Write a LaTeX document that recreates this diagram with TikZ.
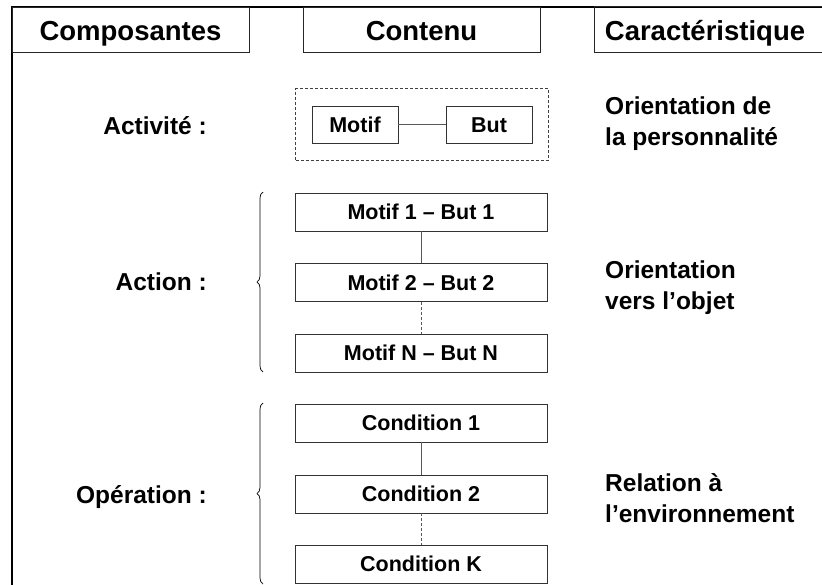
\documentclass[tikz,border=0pt]{standalone}
\usepackage{fontspec}
\setmainfont{Liberation Sans}
\usetikzlibrary{decorations.pathreplacing,fit}
\begin{document}
\begin{tikzpicture}[x=1pt,y=-1pt,
 hdr/.style={draw=black!85, line width=0.8pt, inner sep=0, minimum width=237pt, minimum height=45pt, text height=22.5pt, text depth=0pt, font=\fontsize{27.5}{33}\selectfont\bfseries},
 box/.style={draw=black!80, line width=0.7pt, inner sep=0, minimum width=252pt, minimum height=38pt, text height=15.5pt, text depth=0pt, font=\fontsize{21.5}{26}\selectfont\bfseries},
 sbox/.style={box, minimum width=86pt, minimum height=37pt},
 lbl/.style={inner sep=0, font=\fontsize{24.5}{31}\selectfont\bfseries},
 rlbl/.style={lbl, align=left, anchor=north west},
 link/.style={draw=black!65, line width=0.8pt},
 dlink/.style={link, dash pattern=on 3pt off 2pt},
 brc/.style={decorate, decoration={brace, amplitude=6pt}, line width=0.7pt},
 frame/.style={line width=2pt, draw=black},
]
\useasboundingbox (0,0) rectangle (822,584);
\fill[white] (0,0) rectangle (822,584);
% outer frame
\draw[frame] (12,590) -- (12,7) -- (830,7);
% headers
\node[hdr] (h1) at (130.5,29.5) {Composantes};
\node[hdr] (h2) at (421.5,29.5) {Contenu};
\node[hdr, draw=none, minimum width=220pt] (h3) at (705,29.5) {Caractéristique};
\draw[draw=black!85, line width=0.8pt] ([xshift=30pt]h3.north east) -- (h3.north west) -- (h3.south west) -- ([xshift=30pt]h3.south east);
% activity
\node[sbox] (motif) at (355,124.5) {Motif};
\node[sbox] (but) at (489,124.5) {But};
\draw[link] (motif) -- (but);
\node[draw=black!75, line width=0.7pt, dash pattern=on 3pt off 2pt, inner xsep=16pt, inner ysep=17pt, fit=(motif)(but)] (act) {};
% actions
\node[box] (m1) at (421,212) {Motif 1 – But 1};
\node[box] (m2) at (421,282.5) {Motif 2 – But 2};
\node[box] (mn) at (421,353) {Motif N – But N};
\draw[link] (m1) -- (m2);
\draw[dlink] (m2) -- (mn);
% operations
\node[box] (c1) at (421,423) {Condition 1};
\node[box] (c2) at (421,494) {Condition 2};
\node[box] (ck) at (421,564) {Condition K};
\draw[link] (c1) -- (c2);
\draw[dlink] (c2) -- (ck);
% braces
\draw[brc] (263,372) -- (263,192);
\draw[brc] (263,584) -- (263,403);
% left labels
\node[lbl, anchor=base east] (la) at (207,134) {Activité :};
\node[lbl, anchor=base east] (lb) at (207,290) {Action :};
\node[lbl, anchor=base east] (lc) at (207,503) {Opération :};
% right labels
\node[rlbl] (ra) at (605,97) {Orientation de\\la personnalité};
\node[rlbl] (rb) at (605,260.5) {Orientation\\vers l’objet};
\node[rlbl] (rc) at (605,473) {Relation à\\l’environnement};
\end{tikzpicture}
\end{document}
